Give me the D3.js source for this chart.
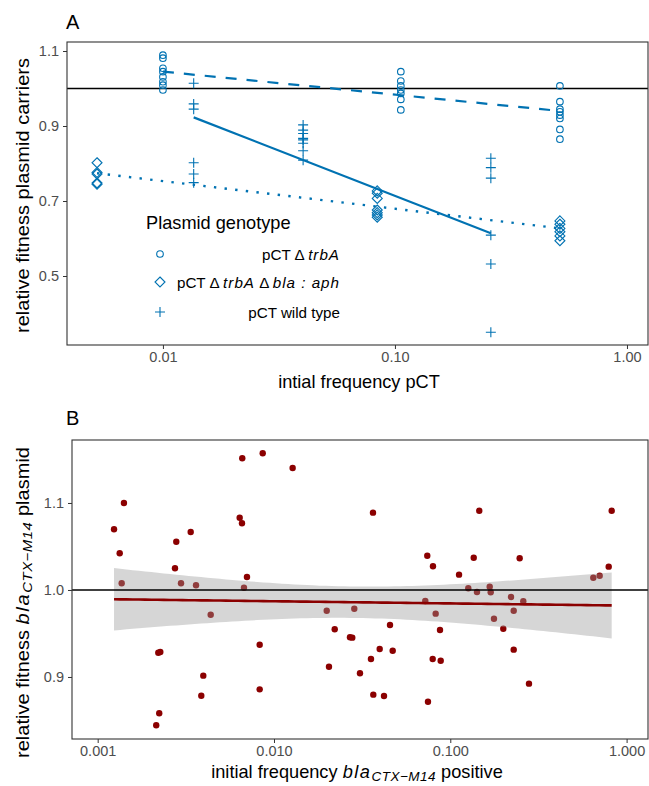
<!DOCTYPE html>
<html>
<head>
<meta charset="utf-8">
<script src="https://cdn.jsdelivr.net/npm/d3@7"></script>
<style>
  body { margin: 0; background: #fff; }
  text { font-family: "Liberation Sans", Arial, sans-serif; }
</style>
</head>
<body>
<svg id="chart" width="649" height="786"></svg>
<script>
/////////    Panel A data    /////////

// pCT ΔtrbA (circles)
const trbAFreq = [0.01, 0.106, 0.514];
const trbAFit = [
  [1.089, 1.081, 1.054, 1.045, 1.031, 1.018, 1.009, 0.996],
  [1.045, 1.020, 1.007, 0.996, 0.987, 0.971, 0.943],
  [1.007, 0.965, 0.945, 0.938, 0.929, 0.920, 0.891, 0.865]
];

// pCT ΔtrbA Δbla:aph (diamonds)
const blaFreq = [0.0052, 0.0839, 0.514];
const blaFit = [
  [0.802, 0.776, 0.772, 0.748, 0.745],
  [0.727, 0.721, 0.707, 0.676, 0.669, 0.663, 0.657],
  [0.647, 0.638, 0.627, 0.618, 0.607, 0.594]
];

// pCT wild type (plus)
const wtFreq = [0.01357, 0.0402, 0.259];
const wtFit = [
  [1.014, 0.959, 0.945, 0.802, 0.772, 0.749],
  [0.903, 0.889, 0.880, 0.867, 0.863, 0.854, 0.834, 0.809],
  [0.814, 0.789, 0.761, 0.609, 0.532, 0.350]
];

// fitted lines (start, end) per genotype
const trbALine = [[0.01, 1.045], [0.514, 0.94]];
const blaLine = [[0.0052, 0.774], [0.514, 0.627]];
const wtLine = [[0.01357, 0.923], [0.259, 0.614]];

const aXTicks = [0.01, 0.1, 1];
const aXLabels = ["0.01", "0.10", "1.00"];
const aYTicks = [0.5, 0.7, 0.9, 1.1];

/////////    Panel B data    /////////

const bFreq = [
  0.001238, 0.001409, 0.001333, 0.001368, 0.002207, 0.002265, 0.002234, 0.002148,
  0.002791, 0.002745, 0.002969, 0.003370, 0.003612, 0.004375, 0.003972, 0.003870,
  0.006607, 0.006389, 0.006584, 0.007027, 0.006757, 0.008630, 0.008296, 0.008296,
  0.01276, 0.01991, 0.02051, 0.03644, 0.02854, 0.02210, 0.02698, 0.02780,
  0.03074, 0.03549, 0.03976, 0.04550, 0.04713, 0.03659, 0.04207, 0.07404,
  0.07976, 0.07214, 0.08262, 0.08741, 0.07946, 0.08822, 0.07472, 0.1121,
  0.1265, 0.1417, 0.1358, 0.1460, 0.1673, 0.1695, 0.1769, 0.1998,
  0.2209, 0.2289, 0.2595, 0.2475, 0.2289, 0.2795, 0.6475, 0.7036,
  0.7916, 0.8231
];
const bFitness = [
  1.0698, 1.1000, 1.0422, 1.0077, 0.9279, 0.9287, 0.8583, 0.8445,
  1.0555, 1.0249, 1.0077, 1.0667, 1.0054, 0.9716, 0.9015, 0.8785,
  1.1514, 1.0831, 1.0767, 1.0149, 1.0026, 1.1571, 0.9371, 0.8858,
  1.1402, 0.9762, 0.9118, 1.0889, 0.9785, 0.9548, 0.9456, 0.9452,
  0.9043, 0.9207, 0.9322, 0.9598, 0.9302, 0.8797, 0.8782, 1.0394,
  1.0272, 0.9874, 0.9728, 0.9540, 0.9207, 0.9187, 0.8716, 1.0176,
  1.0020, 0.9977, 1.0371, 1.0911, 1.0038, 0.9974, 0.9670, 0.9555,
  0.9920, 0.9762, 0.9870, 1.0364, 0.9314, 0.8923, 1.0141, 1.0164,
  1.0268, 1.0911
];

const bXTicks = [0.001, 0.01, 0.1, 1];
const bXLabels = ["0.001", "0.010", "0.100", "1.000"];
const bYTicks = [0.9, 1.0, 1.1];

const blue = "#0072B2";
const red = "#8B0000";

const svg = d3.select("#chart");

// helper: axes with ggplot-like styling
function styleAxis(g) {
  g.select(".domain").remove();
  g.selectAll(".tick line").attr("stroke", "#333").attr("stroke-width", 1);
  g.selectAll(".tick text")
    .attr("fill", "#4d4d4d")
    .style("font-size", "14.5px")
    .style("font-family", "Liberation Sans, Arial, sans-serif");
}

/////////    Panel A    /////////

const aBox = { left: 67, right: 648, top: 42, bottom: 345 };
const xA = d3.scaleLog().domain([0.00386, 1.232]).range([aBox.left, aBox.right]);
const yA = d3.scaleLinear().domain([0.316, 1.124]).range([aBox.bottom, aBox.top]);

const gA = svg.append("g");

gA.append("g")
  .attr("transform", `translate(0,${aBox.bottom})`)
  .call(d3.axisBottom(xA).tickValues(aXTicks).tickFormat((d, i) => aXLabels[i]).tickSize(4).tickPadding(3))
  .call(styleAxis);

gA.append("g")
  .attr("transform", `translate(${aBox.left},0)`)
  .call(d3.axisLeft(yA).tickValues(aYTicks).tickFormat(d3.format(".1f")).tickSize(4).tickPadding(4))
  .call(styleAxis);

// reference line at 1
gA.append("line")
  .attr("x1", aBox.left).attr("x2", aBox.right)
  .attr("y1", yA(1)).attr("y2", yA(1))
  .attr("stroke", "#000").attr("stroke-width", 1.5);

function flatten(freqs, vals) {
  let out = [];
  freqs.forEach((f, i) => vals[i].forEach(v => out.push({ f: f, v: v })));
  return out;
}

// circles
gA.selectAll(".trbA")
  .data(flatten(trbAFreq, trbAFit))
  .enter().append("circle")
  .attr("cx", d => xA(d.f)).attr("cy", d => yA(d.v))
  .attr("r", 3.3)
  .attr("fill", "none").attr("stroke", blue).attr("stroke-width", 1.1);

// diamonds
const diamond = "M0,-5L5,0L0,5L-5,0Z";
gA.selectAll(".bla")
  .data(flatten(blaFreq, blaFit))
  .enter().append("path")
  .attr("d", diamond)
  .attr("transform", d => `translate(${xA(d.f)},${yA(d.v)})`)
  .attr("fill", "none").attr("stroke", blue).attr("stroke-width", 1.1);

// plus
const plus = "M-5,0L5,0M0,-5L0,5";
gA.selectAll(".wt")
  .data(flatten(wtFreq, wtFit))
  .enter().append("path")
  .attr("d", plus)
  .attr("transform", d => `translate(${xA(d.f)},${yA(d.v)})`)
  .attr("fill", "none").attr("stroke", blue).attr("stroke-width", 1.1);

// fitted lines
const lineA = d3.line().x(d => xA(d[0])).y(d => yA(d[1]));
gA.append("path").attr("d", lineA(trbALine))
  .attr("fill", "none").attr("stroke", blue).attr("stroke-width", 2.2)
  .attr("stroke-dasharray", "11,10");
gA.append("path").attr("d", lineA(blaLine))
  .attr("fill", "none").attr("stroke", blue).attr("stroke-width", 2.4)
  .attr("stroke-dasharray", "2.4,8.3");
gA.append("path").attr("d", lineA(wtLine))
  .attr("fill", "none").attr("stroke", blue).attr("stroke-width", 2.2);

// panel border
gA.append("rect")
  .attr("x", aBox.left).attr("y", aBox.top)
  .attr("width", aBox.right - aBox.left).attr("height", aBox.bottom - aBox.top)
  .attr("fill", "none").attr("stroke", "#333").attr("stroke-width", 1.1);

// titles
gA.append("text").attr("x", 66).attr("y", 29).text("A")
  .style("font-size", "20px").attr("fill", "#000");
gA.append("text")
  .attr("x", 359).attr("y", 388)
  .attr("text-anchor", "middle").style("font-size", "18.2px")
  .text("intial frequency pCT");
gA.append("text")
  .attr("transform", `translate(29,195.5) rotate(-90)`)
  .attr("text-anchor", "middle").style("font-size", "18.2px")
  .attr("textLength", 275).attr("lengthAdjust", "spacingAndGlyphs")
  .text("relative fitness plasmid carriers");

// legend
const leg = gA.append("g");
leg.append("text").attr("x", 146).attr("y", 229).style("font-size", "18.2px").text("Plasmid genotype");
const legRows = [254, 282, 312];
leg.append("circle").attr("cx", 160).attr("cy", legRows[0]).attr("r", 3.3)
  .attr("fill", "none").attr("stroke", blue).attr("stroke-width", 1.1);
leg.append("path").attr("d", diamond).attr("transform", `translate(160,${legRows[1]})`)
  .attr("fill", "none").attr("stroke", blue).attr("stroke-width", 1.1);
leg.append("path").attr("d", plus).attr("transform", `translate(160,${legRows[2]})`)
  .attr("fill", "none").attr("stroke", blue).attr("stroke-width", 1.1);

function legLabel(y, parts) {
  const t = leg.append("text").attr("x", 340).attr("y", y + 5.5)
    .attr("text-anchor", "end").style("font-size", "15.2px");
  parts.forEach(p => {
    const s = t.append("tspan").text(p[0]);
    if (p[1]) s.style("font-style", "italic").style("letter-spacing", "1px");
  });
}
legLabel(legRows[0], [["pCT \u0394 ", false], ["trbA", true]]);
legLabel(legRows[1], [["pCT \u0394 ", false], ["trbA", true], [" \u0394 ", false], ["bla : aph", true]]);
legLabel(legRows[2], [["pCT wild type", false]]);

/////////    Panel B    /////////

const bBox = { left: 72, right: 648, top: 440, bottom: 739 };
const xB = d3.scaleLog().domain([0.000715, 1.3225]).range([bBox.left, bBox.right]);
const yB = d3.scaleLinear().domain([0.8287, 1.1724]).range([bBox.bottom, bBox.top]);

const gB = svg.append("g");

gB.append("g")
  .attr("transform", `translate(0,${bBox.bottom})`)
  .call(d3.axisBottom(xB).tickValues(bXTicks).tickFormat((d, i) => bXLabels[i]).tickSize(4).tickPadding(3))
  .call(styleAxis);

gB.append("g")
  .attr("transform", `translate(${bBox.left},0)`)
  .call(d3.axisLeft(yB).tickValues(bYTicks).tickFormat(d3.format(".1f")).tickSize(4).tickPadding(4))
  .call(styleAxis);

const bPts = bFreq.map((f, i) => ({ f: f, v: bFitness[i] }));

gB.selectAll(".pt")
  .data(bPts)
  .enter().append("circle")
  .attr("cx", d => xB(d.f)).attr("cy", d => yB(d.v))
  .attr("r", 3.2).attr("fill", red);

// linear model on log10(freq) with 95% band
const lx = bPts.map(d => Math.log10(d.f));
const ly = bPts.map(d => d.v);
const n = lx.length;
const mx = d3.mean(lx), my = d3.mean(ly);
let sxx = 0, sxy = 0;
for (let i = 0; i < n; i++) {
  sxx += (lx[i] - mx) ** 2;
  sxy += (lx[i] - mx) * (ly[i] - my);
}
const slope = sxy / sxx;
const icpt = my - slope * mx;
let sse = 0;
for (let i = 0; i < n; i++) sse += (ly[i] - (icpt + slope * lx[i])) ** 2;
const sres = Math.sqrt(sse / (n - 2));
const tq = 1.999;
const lo = d3.min(lx), hi = d3.max(lx);
const fitPts = d3.range(81).map(k => {
  const x0 = lo + (hi - lo) * k / 80;
  const yhat = icpt + slope * x0;
  const se = sres * Math.sqrt(1 / n + (x0 - mx) ** 2 / sxx);
  return { f: Math.pow(10, x0), y: yhat, lo: yhat - tq * se, hi: yhat + tq * se };
});

gB.append("path")
  .attr("d", d3.area().x(d => xB(d.f)).y0(d => yB(d.lo)).y1(d => yB(d.hi))(fitPts))
  .attr("fill", "#999").attr("fill-opacity", 0.4);

gB.append("line")
  .attr("x1", bBox.left).attr("x2", bBox.right)
  .attr("y1", yB(1)).attr("y2", yB(1))
  .attr("stroke", "#000").attr("stroke-width", 1.5);

gB.append("path")
  .attr("d", d3.line().x(d => xB(d.f)).y(d => yB(d.y))(fitPts))
  .attr("fill", "none").attr("stroke", red).attr("stroke-width", 2.6);

gB.append("rect")
  .attr("x", bBox.left).attr("y", bBox.top)
  .attr("width", bBox.right - bBox.left).attr("height", bBox.bottom - bBox.top)
  .attr("fill", "none").attr("stroke", "#333").attr("stroke-width", 1.1);

gB.append("text").attr("x", 66).attr("y", 425).text("B")
  .style("font-size", "20px").attr("fill", "#000");

// x title with italic bla and subscript
const bxt = gB.append("text")
  .attr("x", 357).attr("y", 778)
  .attr("text-anchor", "middle").style("font-size", "18.2px");
bxt.append("tspan").text("initial frequency ");
bxt.append("tspan").text("bla").style("font-style", "italic").style("letter-spacing", "1.5px");
bxt.append("tspan").text("CTX\u2212M14").style("font-style", "italic")
  .style("font-size", "13.5px").attr("dy", 3).style("letter-spacing", "0.5px");
bxt.append("tspan").text(" positive").attr("dy", -3);

const byt = gB.append("text")
  .attr("transform", `translate(29,602.5) rotate(-90)`)
  .attr("text-anchor", "middle").style("font-size", "18.2px")
  .attr("textLength", 311).attr("lengthAdjust", "spacingAndGlyphs");
byt.append("tspan").text("relative fitness ");
byt.append("tspan").text("bla").style("font-style", "italic").style("letter-spacing", "1.5px");
byt.append("tspan").text("CTX\u2212M14").style("font-style", "italic")
  .style("font-size", "13.5px").attr("dy", 3).style("letter-spacing", "0.5px");
byt.append("tspan").text(" plasmid").attr("dy", -3);
</script>
</body>
</html>
